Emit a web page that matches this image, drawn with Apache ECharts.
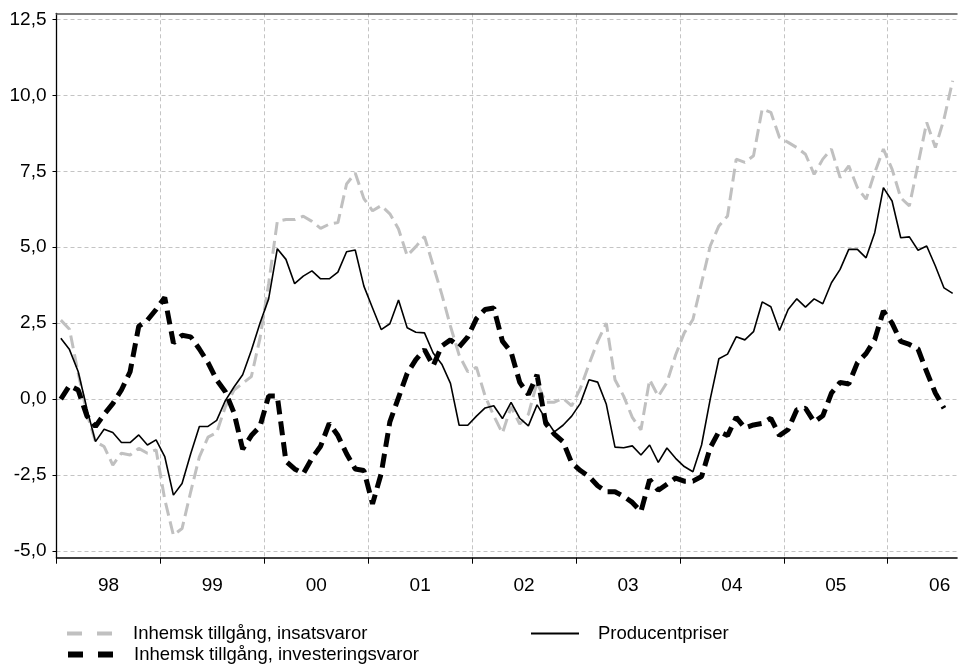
<!DOCTYPE html>
<html>
<head>
<meta charset="utf-8">
<script src="https://cdn.jsdelivr.net/npm/echarts@6/dist/echarts.min.js"></script>
<style>
html,body{margin:0;padding:0;background:#fff;}
#chart{width:964px;height:664px;}
</style>
</head>
<body>
<div id="chart"></div>
<script>
// Year labels (two digits) and monthly categories Jan 1998 – Aug 2006
const yearLabels = ['98','99','00','01','02','03','04','05','06'];
const monthsIn2006 = 8;
const months = [];
yearLabels.forEach((y, k) => {
  const century = (y === '98' || y === '99') ? '19' : '20';
  const n = (k === yearLabels.length - 1) ? monthsIn2006 : 12;
  for (let m = 1; m <= n; m++) months.push(century + y + '-' + (m < 10 ? '0' + m : m));
});

const yTickValues = [-5, -2.5, 0, 2.5, 5, 7.5, 10, 12.5];

// Inhemsk tillgång, insatsvaror (grey dashed)
const insatsvaror = [
  2.6, 2.3, 0.86, -0.46, -1.4, -1.56, -2.17, -1.78, -1.84, -1.62, -1.78, -1.67,
  -3.3, -4.48, -4.26, -3.05, -1.9, -1.25, -1.1, -0.25, 0.3, 0.52, 0.74, 2.0,
  3.8, 5.85, 5.91, 5.91, 6.02, 5.85, 5.62, 5.76, 5.81, 7.08, 7.44, 6.6,
  6.2, 6.37, 6.1, 5.6, 4.72, 5.02, 5.35, 4.4, 3.45, 2.4, 1.45, 0.9,
  1.05, 0.1, -0.55, -1.12, -0.25, -0.82, -0.5, 0.55, -0.1, -0.1, 0.03, -0.22,
  0.35, 1.15, 1.9, 2.5, 0.64, 0.1, -0.6, -1.01, 0.64, 0.09, 0.55, 1.45,
  2.18, 2.62, 3.83, 5.04, 5.7, 6.03, 7.9, 7.79, 8.01, 9.55, 9.44, 8.61,
  8.45, 8.28, 8.06, 7.4, 7.9, 8.23, 7.29, 7.68, 6.96, 6.58, 7.46, 8.23,
  7.57, 6.63, 6.36, 7.73, 9.11, 8.28, 9.22, 10.48
];

// Producentpriser (solid black)
const producentpriser = [
  2.0, 1.63, 0.91, -0.3, -1.4, -0.99, -1.1, -1.43, -1.43, -1.18, -1.51, -1.34,
  -1.89, -3.16, -2.78, -1.8, -0.9, -0.9, -0.7, -0.05, 0.4, 0.8, 1.6, 2.5,
  3.3, 4.95, 4.6, 3.8, 4.05, 4.22, 3.96, 3.96, 4.18, 4.85, 4.91, 3.72,
  3.0, 2.29, 2.48, 3.26, 2.35, 2.2, 2.18, 1.52, 1.15, 0.52, -0.86, -0.86,
  -0.56, -0.29, -0.22, -0.64, -0.11, -0.63, -0.88, -0.19, -0.66, -1.08, -0.86, -0.56,
  -0.14, 0.64, 0.56, -0.17, -1.58, -1.6, -1.54, -1.84, -1.51, -2.08, -1.61, -1.95,
  -2.22, -2.39, -1.51, 0.0, 1.33, 1.48, 2.05, 1.95, 2.22, 3.2, 3.04, 2.26,
  2.95, 3.3, 3.03, 3.3, 3.14, 3.83, 4.27, 4.93, 4.93, 4.65, 5.48, 6.96,
  6.52, 5.31, 5.34, 4.9, 5.04, 4.38, 3.66, 3.48
];

// Inhemsk tillgång, investeringsvaror (thick black dashed)
const investeringsvaror = [
  0.0, 0.45, 0.3, -0.55, -0.9, -0.5, -0.15, 0.3, 0.9, 2.4, 2.6, 2.95,
  3.35, 1.85, 2.1, 2.05, 1.65, 1.2, 0.63, 0.24, -0.45, -1.65, -1.2, -0.9,
  0.1, 0.1, -2.05, -2.3, -2.45, -1.95, -1.55, -0.8, -1.2, -1.8, -2.3, -2.35,
  -3.45, -2.45, -0.75, 0.05, 0.85, 1.3, 1.63, 1.1, 1.75, 1.95, 1.72, 2.05,
  2.65, 2.95, 3.0, 1.91, 1.55, 0.55, 0.15, 0.8, -0.8, -1.15, -1.4, -2.1,
  -2.35, -2.55, -2.85, -3.05, -3.05, -3.2, -3.4, -3.7, -2.65, -3.0, -2.8, -2.6,
  -2.7, -2.7, -2.55, -1.6, -1.07, -1.2, -0.6, -0.95, -0.85, -0.8, -0.63, -1.2,
  -1.0, -0.35, -0.3, -0.75, -0.55, 0.2, 0.55, 0.5, 1.2, 1.5, 1.96, 2.9,
  2.5, 1.9, 1.8, 1.65, 0.9, 0.2, -0.3
];

const names = {
  ins: 'Inhemsk tillgång, insatsvaror',
  prod: 'Producentpriser',
  inv: 'Inhemsk tillgång, investeringsvaror'
};

const yearStarts = yearLabels.map((_, k) => k * 12);
const yearMids = yearLabels.map((_, k) => k * 12 + 6);

const FONT = 'Liberation Sans, Arial, sans-serif';
const gridLine = { show: true, lineStyle: { color: '#c4c4c4', type: [4, 3], width: 1 } };
const noSymbol = { opacity: 0 };

const chart = echarts.init(document.getElementById('chart'), null, { renderer: 'canvas' });
const legendBase = {
  orient: 'horizontal', padding: 0, itemHeight: 14, selectedMode: false,
  textStyle: { fontFamily: FONT, fontSize: 18.5, color: '#000', padding: [0, 0, 0, 16] }
};
chart.setOption({
  animation: false,
  backgroundColor: '#fff',
  grid: { left: 56.5, right: 7, top: 13.3, bottom: 106.3, containLabel: false },
  xAxis: [
    {
      type: 'category', data: months, boundaryGap: true, position: 'top',
      axisLine: { show: true, onZero: false, lineStyle: { color: '#555', width: 1.5 } },
      axisTick: { show: false }, axisLabel: { show: false }, splitLine: { show: false }
    },
    {
      type: 'value', min: 0, max: months.length, position: 'bottom',
      axisLine: { show: true, onZero: false, lineStyle: { color: '#000', width: 1.6 } },
      axisTick: { show: true, length: 6, customValues: yearStarts, lineStyle: { color: '#000', width: 1 } },
      axisLabel: {
        customValues: yearMids, margin: 19, fontFamily: FONT, fontSize: 19, color: '#000',
        formatter: v => yearLabels[Math.round((v - 6) / 12)]
      },
      splitLine: gridLine
    }
  ],
  yAxis: {
    type: 'value', min: -5.22, max: 12.7,
    axisLine: { show: true, onZero: false, lineStyle: { color: '#000', width: 1.3 } },
    axisTick: { show: true, length: 4, customValues: yTickValues, lineStyle: { color: '#000' } },
    axisLabel: {
      customValues: yTickValues, margin: 10, fontFamily: FONT, fontSize: 19, color: '#000',
      formatter: v => v.toFixed(1).replace('.', ',')
    },
    splitLine: gridLine
  },
  legend: [
    Object.assign({}, legendBase, { left: 65, top: 624, itemWidth: 45,
      data: [{ name: names.ins, itemStyle: noSymbol, lineStyle: { type: [15, 15], width: 4, color: '#c0c0c0' } }] }),
    Object.assign({}, legendBase, { left: 530, top: 624, itemWidth: 48,
      textStyle: Object.assign({}, legendBase.textStyle, { padding: [0, 0, 0, 14] }),
      data: [{ name: names.prod, itemStyle: noSymbol, lineStyle: { width: 2 } }] }),
    Object.assign({}, legendBase, { left: 65, top: 645, itemWidth: 45,
      data: [{ name: names.inv, itemStyle: noSymbol, lineStyle: { type: [15, 15], width: 6 } }] })
  ],
  series: [
    {
      name: names.ins, type: 'line', data: insatsvaror, xAxisIndex: 0, yAxisIndex: 0,
      symbol: 'none', lineStyle: { color: '#c0c0c0', width: 3, type: [13, 6] },
      itemStyle: { color: '#c0c0c0' }, z: 2
    },
    {
      name: names.prod, type: 'line', data: producentpriser, xAxisIndex: 0, yAxisIndex: 0,
      symbol: 'none', lineStyle: { color: '#000', width: 1.6, type: 'solid' },
      itemStyle: { color: '#000' }, z: 3
    },
    {
      name: names.inv, type: 'line', data: investeringsvaror, xAxisIndex: 0, yAxisIndex: 0,
      symbol: 'none', lineStyle: { color: '#000', width: 5, type: [14, 7] },
      itemStyle: { color: '#000' }, z: 4
    }
  ]
});
</script>
</body>
</html>
